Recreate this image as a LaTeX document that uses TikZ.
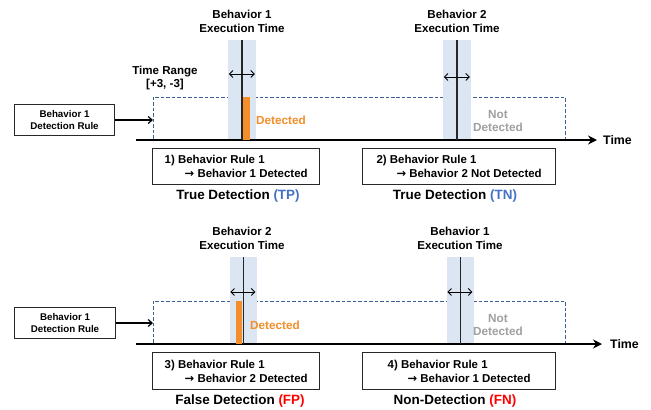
\documentclass[tikz,border=0pt]{standalone}
\usepackage{fontspec}
\setmainfont{Liberation Sans}
\newfontfamily\symfont{DejaVu Sans}
\usetikzlibrary{arrows.meta}
\definecolor{bandblue}{RGB}{220,230,242}
\definecolor{winblue}{RGB}{62,95,148}
\definecolor{detorange}{RGB}{243,142,42}
\definecolor{tpblue}{RGB}{68,114,196}
\definecolor{fpred}{RGB}{255,0,0}
\definecolor{ndgrey}{RGB}{160,160,160}
\definecolor{boxgrey}{RGB}{40,40,40}
\newcommand{\ra}{{\symfont\char"2192}}
\tikzset{
  lbl/.style={align=center,font=\bfseries\fontsize{11.6}{14}\selectfont,inner sep=0},
  rulebox/.style={draw=boxgrey,line width=1pt,fill=white,minimum width=101,minimum height=32,
    align=center,font=\bfseries\fontsize{9.8}{12.5}\selectfont,inner sep=0},
  casebox/.style={draw=boxgrey,line width=1pt,fill=white,minimum height=36,
    align=left,font=\bfseries\fontsize{11.5}{14}\selectfont,inner xsep=7,inner ysep=0,anchor=north west},
  title/.style={font=\bfseries\fontsize{13.5}{15}\selectfont,inner sep=0},
  band/.style={fill=bandblue,draw=none,minimum width=28,inner sep=0},
  win/.style={draw=winblue,line width=1pt,dash pattern=on 3.5pt off 2pt},
  axis/.style={line width=1.8pt,-{Stealth[length=9pt,width=9pt]}},
  feed/.style={line width=1.2pt,-{Straight Barb[length=4pt,width=7pt]}},
  span/.style={line width=0.9pt,{Straight Barb[length=3.5pt,width=7pt]}-{Straight Barb[length=3.5pt,width=7pt]}},
  exec/.style={line width=1.1pt,draw=black!85},
  det/.style={text=detorange,font=\bfseries\fontsize{11.8}{14}\selectfont,inner sep=0,anchor=west},
  notdet/.style={text=ndgrey,font=\bfseries\fontsize{11.8}{14}\selectfont,inner sep=0,align=center},
}
\begin{document}
\begin{tikzpicture}[x=1bp,y=-1bp]
\useasboundingbox[fill=white] (0,0) rectangle (651,409);

% ---------------- upper timeline ----------------
\node[rulebox] (rule1) at (64.5,120) {Behavior 1\\Detection Rule};
\draw[win] (153,97) rectangle (565,140);
\coordinate (win1w) at (153,120);
\node[band,minimum height=100] (b1) at (242,90) {};
\node[band,minimum height=100] (b2) at (457,90) {};
\coordinate (ax1s) at (136,140);
\coordinate (ax1e) at (597,140);
\draw[axis] (ax1s) -- (ax1e);
\node[lbl,anchor=west,font=\bfseries\fontsize{12.4}{14}\selectfont] (t1) at (603,140) {Time};
\fill[detorange] (243,97) rectangle (250,140);
\draw[exec] (b1.north) -- (b1.south);
\draw[exec] (b2.north) -- (b2.south);
\draw[span] (b1.north west) ++(1,34) -- ++(26,0);
\draw[span] (b2.north west) ++(1,37) -- ++(26,0);
\draw[feed] (rule1.east) -- (win1w);
\node[lbl] (x1) at (242,21) {Behavior 1\\Execution Time};
\node[lbl] (x2) at (457,21) {Behavior 2\\Execution Time};
\node[lbl] (tr) at (165,78) {Time Range\\{}[+3, -3]};
\node[det] (d1) at (256,120) {Detected};
\node[notdet] (n1) at (498,121) {Not\\Detected};
\node[casebox,minimum width=168] (c1) at (152,148) {1) Behavior Rule 1\\\hspace*{20bp}\ra\ Behavior 1 Detected};
\node[casebox,minimum width=194] (c2) at (362,148) {2) Behavior Rule 1\\\hspace*{20bp}\ra\ Behavior 2 Not Detected};
\node[title] (r1) at (238,196) {True Detection \textcolor{tpblue}{(TP)}};
\node[title] (r2) at (455,196) {True Detection \textcolor{tpblue}{(TN)}};

% ---------------- lower timeline ----------------
\node[rulebox] (rule2) at (65,323) {Behavior 1\\Detection Rule};
\draw[win] (153,301) rectangle (565,344);
\coordinate (win2w) at (153,323);
\node[band,minimum height=87] (b3) at (243.5,300.5) {};
\node[band,minimum height=87] (b4) at (460.5,300.5) {};
\coordinate (ax2s) at (136,344);
\coordinate (ax2e) at (602,344);
\draw[axis] (ax2s) -- (ax2e);
\node[lbl,anchor=west,font=\bfseries\fontsize{12.4}{14}\selectfont] (t2) at (610,344) {Time};
\fill[detorange] (236,301) rectangle (242,344);
\draw[exec] (b3.north) -- (b3.south);
\draw[exec] (b4.north) -- (b4.south);
\draw[span] (b3.north west) ++(1,35) -- ++(25,0);
\draw[span] (b4.north west) ++(1,35) -- ++(25,0);
\draw[feed] (rule2.east) -- (win2w);
\node[lbl] (x3) at (242,238) {Behavior 2\\Execution Time};
\node[lbl] (x4) at (460,238) {Behavior 1\\Execution Time};
\node[det] (d2) at (250,325) {Detected};
\node[notdet] (n2) at (498,325) {Not\\Detected};
\node[casebox,minimum width=168,minimum height=37] (c3) at (152,352) {3) Behavior Rule 1\\\hspace*{20bp}\ra\ Behavior 2 Detected};
\node[casebox,minimum width=194,minimum height=37] (c4) at (362,352) {4) Behavior Rule 1\\\hspace*{20bp}\ra\ Behavior 1 Detected};
\node[title] (r3) at (240,401) {False Detection \textcolor{fpred}{(FP)}};
\node[title] (r4) at (455,401) {Non-Detection \textcolor{fpred}{(FN)}};
\end{tikzpicture}
\end{document}
